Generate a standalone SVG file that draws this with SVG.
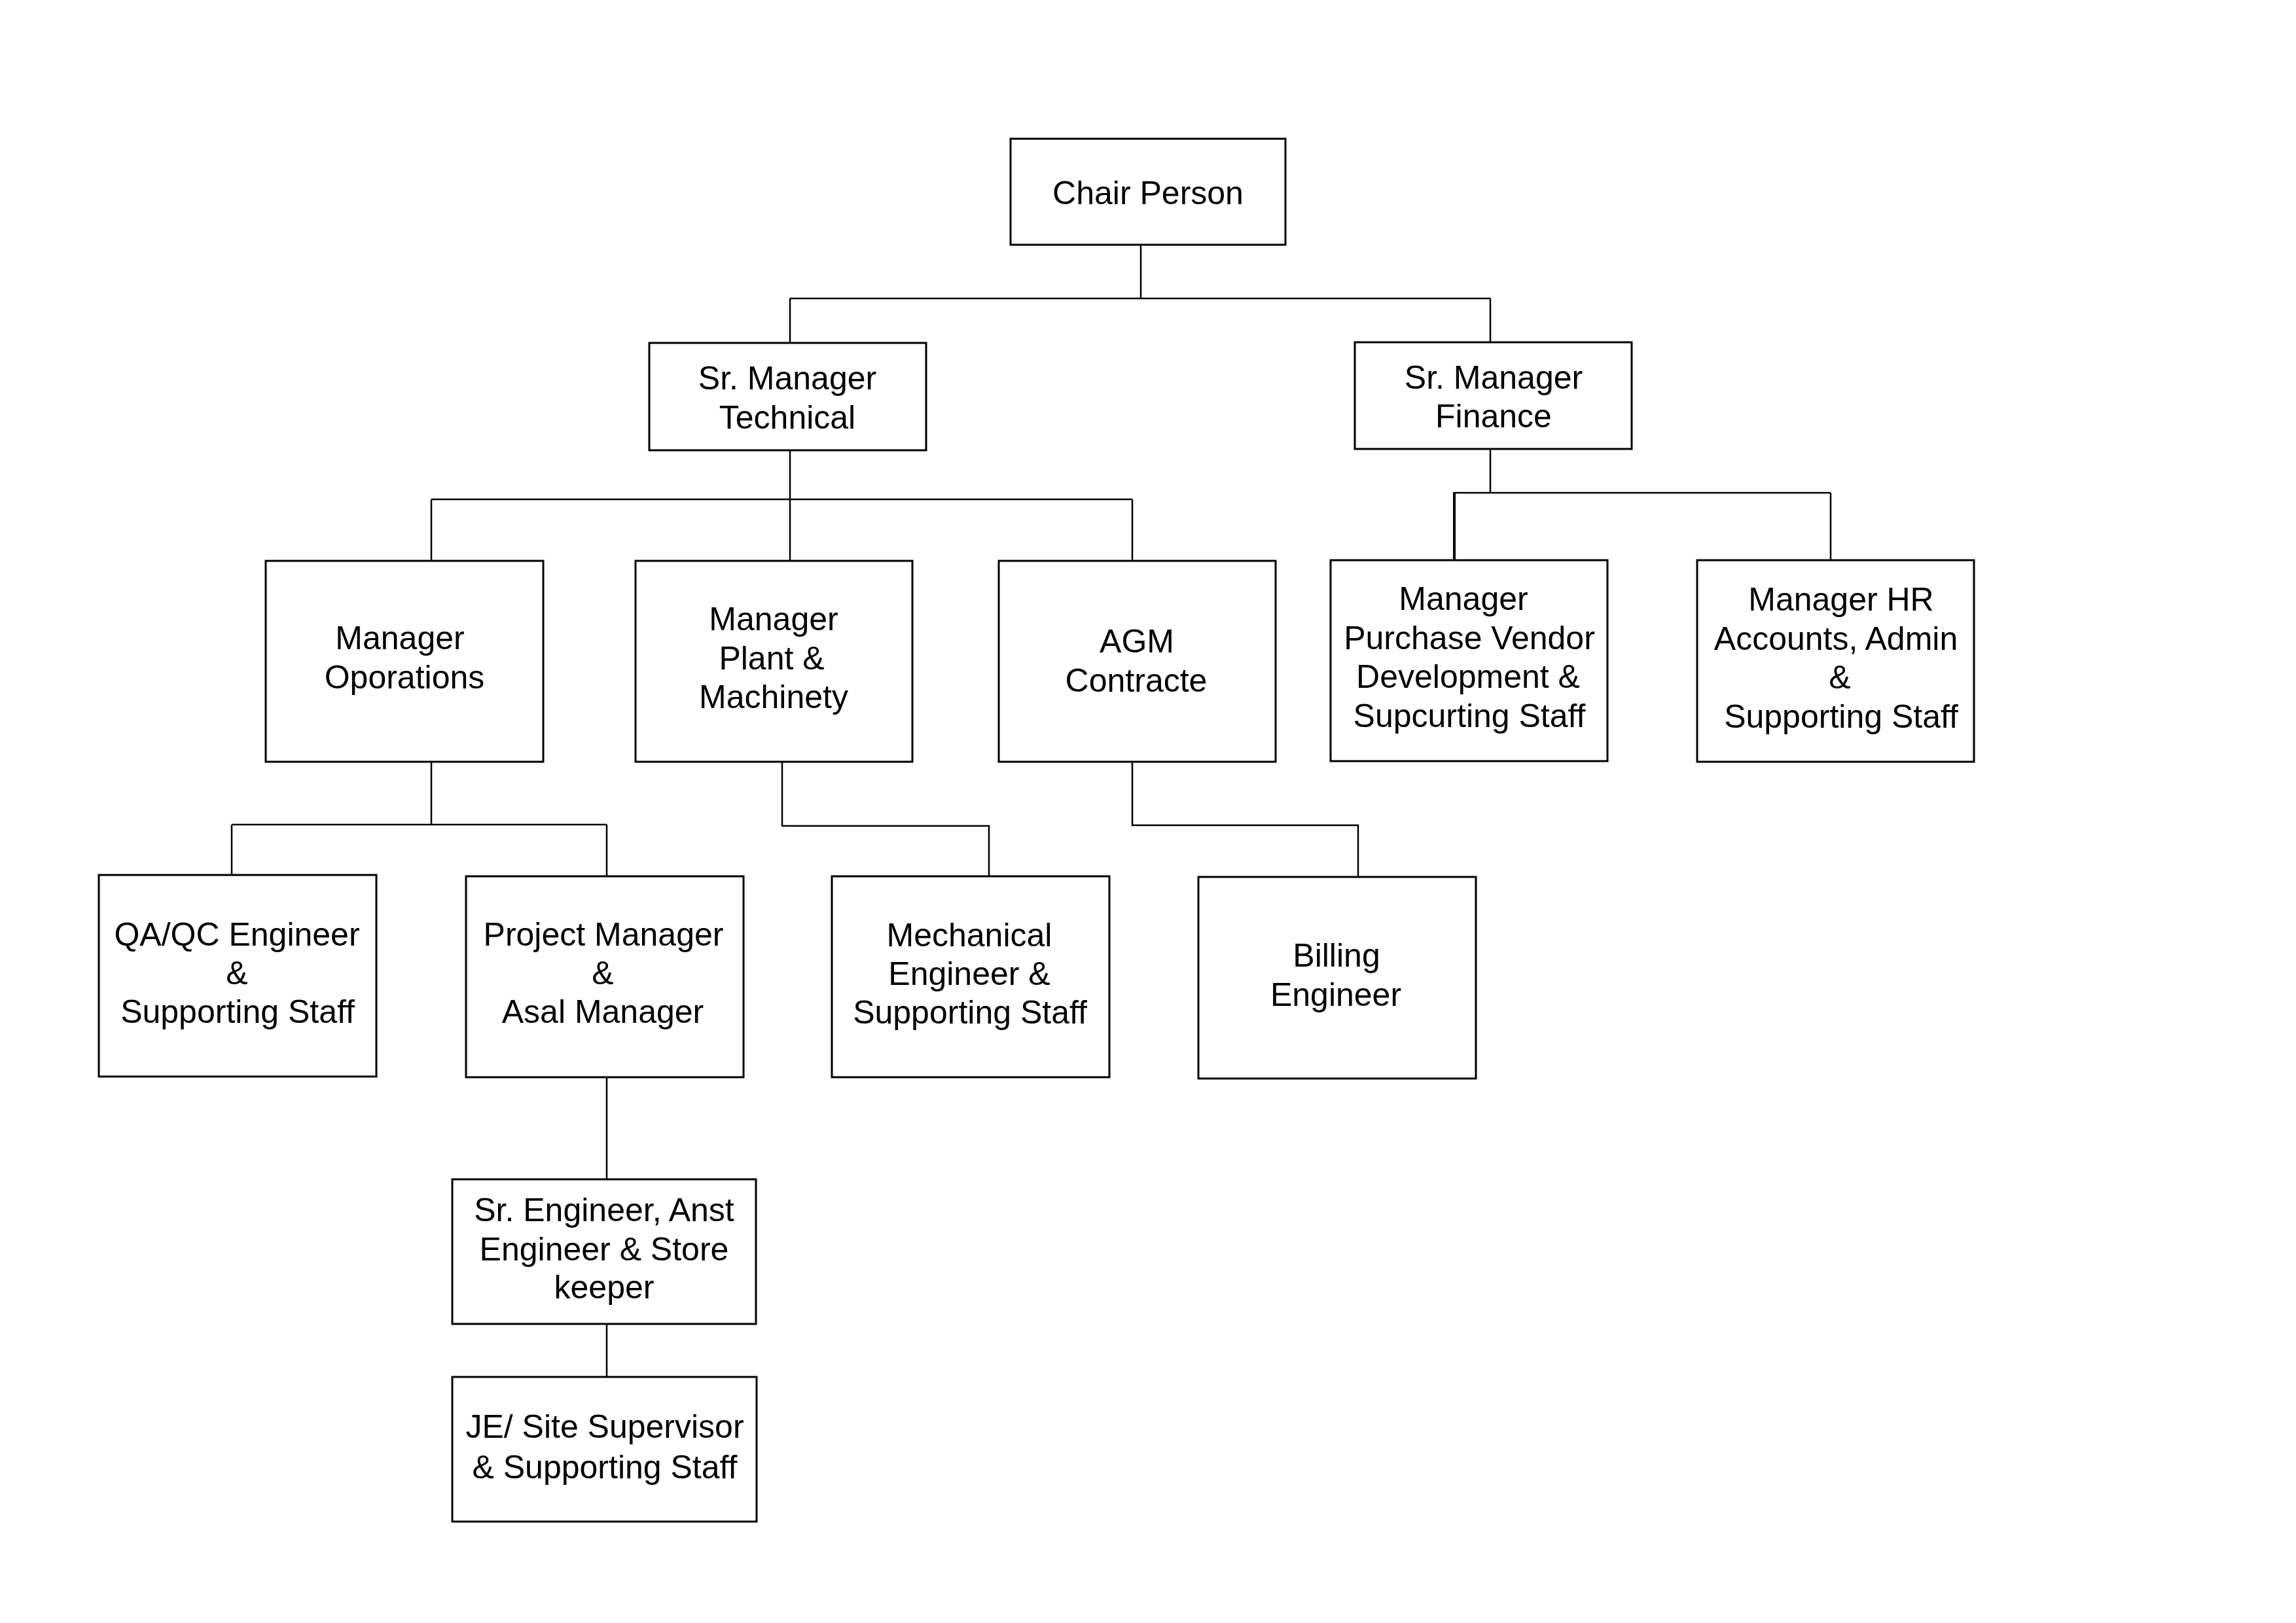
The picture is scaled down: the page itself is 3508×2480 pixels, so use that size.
<svg xmlns="http://www.w3.org/2000/svg" width="3508" height="2480" viewBox="0 0 3508 2480">
<style>
.box{fill:#fff;stroke:#000;stroke-width:3}
.lbl{font-family:"Liberation Sans",Arial,sans-serif;font-size:50px;fill:#000;text-anchor:middle}
.con{fill:none;stroke:#000;stroke-width:2.5}
.thick{stroke-width:4}
</style>
<rect width="3508" height="2480" fill="#fff"/>
<g id="connectors">
<path class="con" d="M1743 374V456M1207 456H2277M1207 456V524M2277 456V523"/>
<path class="con" d="M1207 688V857M659 763H1730M659 763V857M1730 763V857"/>
<path class="con" d="M2277 686V753M2221 753H2797M2797 753V856"/>
<path class="con thick" d="M2222 752V856"/>
<path class="con" d="M659 1164V1260M354 1260H927M354 1260V1337M927 1260V1339"/>
<path class="con" d="M1195 1164V1262H1511V1339"/>
<path class="con" d="M1730 1164V1261H2075V1340"/>
<path class="con" d="M927 1646V1802M927 2023V2104"/>
</g>
<g id="chair"><rect class="box" x="1544" y="212" width="420" height="162"/><text class="lbl" x="1754" y="312">Chair Person</text></g>
<g id="sr-tech"><rect class="box" x="992" y="524" width="423" height="164"/><text class="lbl" x="1203" y="595">Sr. Manager</text><text class="lbl" x="1203" y="655">Technical</text></g>
<g id="sr-fin"><rect class="box" x="2070" y="523" width="423" height="163"/><text class="lbl" x="2282" y="594">Sr. Manager</text><text class="lbl" x="2282" y="653">Finance</text></g>
<g id="mgr-ops"><rect class="box" x="406" y="857" width="424" height="307"/><text class="lbl" x="611" y="992">Manager</text><text class="lbl" x="618" y="1052">Oporations</text></g>
<g id="mgr-plant"><rect class="box" x="971" y="857" width="423" height="307"/><text class="lbl" x="1182" y="963">Manager</text><text class="lbl" x="1179" y="1023">Plant &amp;</text><text class="lbl" x="1182" y="1082">Machinety</text></g>
<g id="agm"><rect class="box" x="1526" y="857" width="423" height="307"/><text class="lbl" x="1737" y="997">AGM</text><text class="lbl" x="1736" y="1057">Contracte</text></g>
<g id="mgr-purchase"><rect class="box" x="2033" y="856" width="423" height="307"/><text class="lbl" x="2236" y="932">Manager</text><text class="lbl" x="2245" y="992">Purchase Vendor</text><text class="lbl" x="2243" y="1051">Development &amp;</text><text class="lbl" x="2245" y="1111">Supcurting Staff</text></g>
<g id="mgr-hr"><rect class="box" x="2593" y="856" width="423" height="308"/><text class="lbl" x="2813" y="933">Manager HR</text><text class="lbl" x="2805" y="993">Accounts, Admin</text><text class="lbl" x="2811" y="1052">&amp;</text><text class="lbl" x="2813" y="1112">Supporting Staff</text></g>
<g id="qaqc"><rect class="box" x="151" y="1337" width="424" height="308"/><text class="lbl" x="362" y="1445">QA/QC Engineer</text><text class="lbl" x="362" y="1504">&amp;</text><text class="lbl" x="363" y="1563">Supporting Staff</text></g>
<g id="pm"><rect class="box" x="712" y="1339" width="424" height="307"/><text class="lbl" x="922" y="1445">Project Manager</text><text class="lbl" x="921" y="1504">&amp;</text><text class="lbl" x="921" y="1563">Asal Manager</text></g>
<g id="mech"><rect class="box" x="1271" y="1339" width="424" height="307"/><text class="lbl" x="1481" y="1446">Mechanical</text><text class="lbl" x="1481" y="1505">Engineer &amp;</text><text class="lbl" x="1482" y="1564">Supporting Staff</text></g>
<g id="billing"><rect class="box" x="1831" y="1340" width="424" height="308"/><text class="lbl" x="2042" y="1477">Billing</text><text class="lbl" x="2041" y="1537">Engineer</text></g>
<g id="sr-eng"><rect class="box" x="691" y="1802" width="464" height="221"/><text class="lbl" x="923" y="1866">Sr. Engineer, Anst</text><text class="lbl" x="923" y="1926">Engineer &amp; Store</text><text class="lbl" x="923" y="1984">keeper</text></g>
<g id="je"><rect class="box" x="691" y="2104" width="465" height="221"/><text class="lbl" x="924" y="2197">JE/ Site Supervisor</text><text class="lbl" x="924" y="2259">&amp; Supporting Staff</text></g>
</svg>
